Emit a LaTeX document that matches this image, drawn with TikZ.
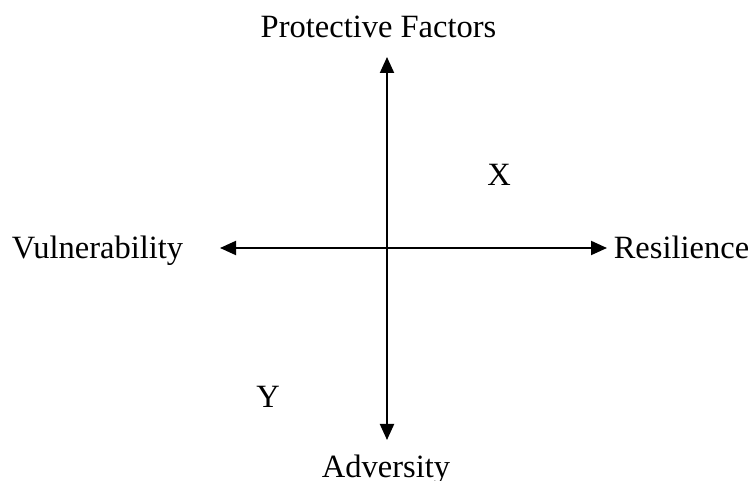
\documentclass[tikz,border=0pt]{standalone}
\usepackage{fontspec}
\setmainfont{Liberation Serif}
\usetikzlibrary{arrows.meta}
\begin{document}
\begin{tikzpicture}[x=1pt,y=-1pt,
  lbl/.style={inner sep=0pt,anchor=base,font=\fontsize{32.5}{36}\selectfont},
  axis/.style={line width=2pt,{Triangle[length=16pt,width=14pt]}-{Triangle[length=16pt,width=14pt]}}]
\useasboundingbox (0,0) rectangle (748,481);
\coordinate (top) at (387,57);
\coordinate (bot) at (387,440);
\coordinate (left) at (220,248);
\coordinate (right) at (607,248);
\draw[axis] (bot) -- (top);
\draw[axis] (left) -- (right);
\node[lbl] (pf) at (378.5,38) {Protective Factors};
\node[lbl] (vu) at (97.5,259) {Vulnerability};
\node[lbl] (re) at (681.5,259) {Resilience};
\node[lbl] (x) at (499,186) {X};
\node[lbl] (y) at (268,408) {Y};
\node[lbl] (ad) at (386,478) {Adversity};
\end{tikzpicture}
\end{document}
